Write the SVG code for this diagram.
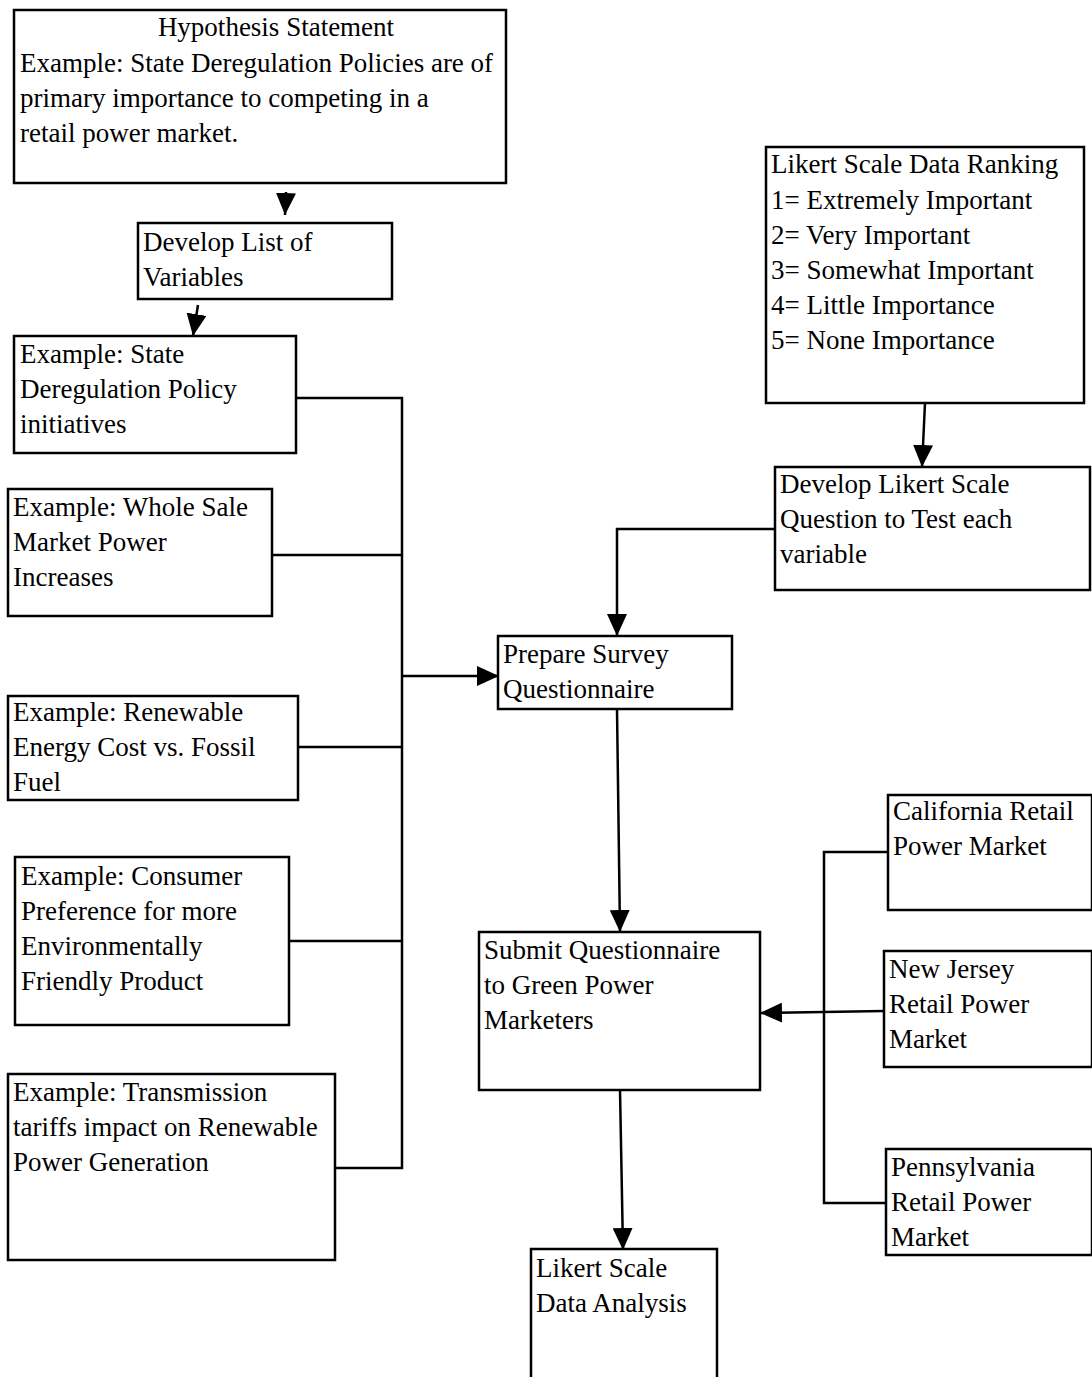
<svg xmlns="http://www.w3.org/2000/svg" width="1092" height="1377" viewBox="0 0 1092 1377">
<style>
.box{fill:#fff;stroke:#000;stroke-width:2.5}
.t{font-family:"Liberation Serif","Times New Roman",serif;font-size:27px;fill:#000}
.c{fill:none;stroke:#000;stroke-width:2.5}
</style>
<defs>
<marker id="ah" markerUnits="userSpaceOnUse" markerWidth="24" markerHeight="20" refX="22" refY="10" orient="auto">
<path d="M0,0 L22,10 L0,20 Z" fill="#000"/>
</marker>
</defs>
<rect width="1092" height="1377" fill="#fff"/>
<g id="connectors">
<line class="c" x1="286" y1="192" x2="285" y2="215" marker-end="url(#ah)"/>
<line class="c" x1="198" y1="305" x2="193" y2="336" marker-end="url(#ah)"/>
<polyline class="c" points="296,398 402,398 402,1168 335,1168"/>
<line class="c" x1="272" y1="555" x2="402" y2="555"/>
<line class="c" x1="298" y1="747" x2="402" y2="747"/>
<line class="c" x1="289" y1="941" x2="402" y2="941"/>
<line class="c" x1="402" y1="676" x2="499" y2="676" marker-end="url(#ah)"/>
<line class="c" x1="925" y1="403" x2="922" y2="467" marker-end="url(#ah)"/>
<polyline class="c" points="775,529 617,529 617,636" marker-end="url(#ah)"/>
<line class="c" x1="617" y1="709" x2="620" y2="932" marker-end="url(#ah)"/>
<polyline class="c" points="888,852 824,852 824,1203 886,1203"/>
<line class="c" x1="884" y1="1011" x2="760" y2="1013" marker-end="url(#ah)"/>
<line class="c" x1="620" y1="1090" x2="623" y2="1250" marker-end="url(#ah)"/>
</g>
<g id="hypothesis">
<rect class="box" x="14" y="10" width="492" height="173"/>
<text class="t" x="276" y="36" text-anchor="middle">Hypothesis Statement</text>
<text class="t" x="20" y="72">Example: State Deregulation Policies are of</text>
<text class="t" x="20" y="107">primary importance to competing in a</text>
<text class="t" x="20" y="142">retail power market.</text>
</g>
<g id="develop-list">
<rect class="box" x="138" y="223" width="254" height="76"/>
<text class="t" x="143" y="251">Develop List of</text>
<text class="t" x="143" y="286">Variables</text>
</g>
<g id="ex-state">
<rect class="box" x="14" y="336" width="282" height="117"/>
<text class="t" x="20" y="363">Example: State</text>
<text class="t" x="20" y="398">Deregulation Policy</text>
<text class="t" x="20" y="433">initiatives</text>
</g>
<g id="ex-wholesale">
<rect class="box" x="8" y="489" width="264" height="127"/>
<text class="t" x="13" y="516">Example: Whole Sale</text>
<text class="t" x="13" y="551">Market Power</text>
<text class="t" x="13" y="586">Increases</text>
</g>
<g id="ex-renewable">
<rect class="box" x="8" y="696" width="290" height="104"/>
<text class="t" x="13" y="721">Example: Renewable</text>
<text class="t" x="13" y="756">Energy Cost vs. Fossil</text>
<text class="t" x="13" y="791">Fuel</text>
</g>
<g id="ex-consumer">
<rect class="box" x="15" y="857" width="274" height="168"/>
<text class="t" x="21" y="885">Example: Consumer</text>
<text class="t" x="21" y="920">Preference for more</text>
<text class="t" x="21" y="955">Environmentally</text>
<text class="t" x="21" y="990">Friendly Product</text>
</g>
<g id="ex-transmission">
<rect class="box" x="8" y="1074" width="327" height="186"/>
<text class="t" x="13" y="1101">Example: Transmission</text>
<text class="t" x="13" y="1136">tariffs impact on Renewable</text>
<text class="t" x="13" y="1171">Power Generation</text>
</g>
<g id="prepare-survey">
<rect class="box" x="498" y="636" width="234" height="73"/>
<text class="t" x="503" y="663">Prepare Survey</text>
<text class="t" x="503" y="698">Questionnaire</text>
</g>
<g id="likert-ranking">
<rect class="box" x="766" y="147" width="318" height="256"/>
<text class="t" x="771" y="173">Likert Scale Data Ranking</text>
<text class="t" x="771" y="209">1= Extremely Important</text>
<text class="t" x="771" y="244">2= Very Important</text>
<text class="t" x="771" y="279">3= Somewhat Important</text>
<text class="t" x="771" y="314">4= Little Importance</text>
<text class="t" x="771" y="349">5= None Importance</text>
</g>
<g id="develop-likert">
<rect class="box" x="775" y="467" width="315" height="123"/>
<text class="t" x="780" y="493">Develop Likert Scale</text>
<text class="t" x="780" y="528">Question to Test each</text>
<text class="t" x="780" y="563">variable</text>
</g>
<g id="submit">
<rect class="box" x="479" y="932" width="281" height="158"/>
<text class="t" x="484" y="959">Submit Questionnaire</text>
<text class="t" x="484" y="994">to Green Power</text>
<text class="t" x="484" y="1029">Marketers</text>
</g>
<g id="california">
<rect class="box" x="888" y="795" width="204" height="115"/>
<text class="t" x="893" y="820">California Retail</text>
<text class="t" x="893" y="855">Power Market</text>
</g>
<g id="new-jersey">
<rect class="box" x="884" y="951" width="208" height="116"/>
<text class="t" x="889" y="978">New Jersey</text>
<text class="t" x="889" y="1013">Retail Power</text>
<text class="t" x="889" y="1048">Market</text>
</g>
<g id="pennsylvania">
<rect class="box" x="886" y="1149" width="206" height="106"/>
<text class="t" x="891" y="1176">Pennsylvania</text>
<text class="t" x="891" y="1211">Retail Power</text>
<text class="t" x="891" y="1246">Market</text>
</g>
<g id="likert-analysis">
<rect class="box" x="531" y="1249" width="186" height="140"/>
<text class="t" x="536" y="1277">Likert Scale</text>
<text class="t" x="536" y="1312">Data Analysis</text>
</g>
</svg>
